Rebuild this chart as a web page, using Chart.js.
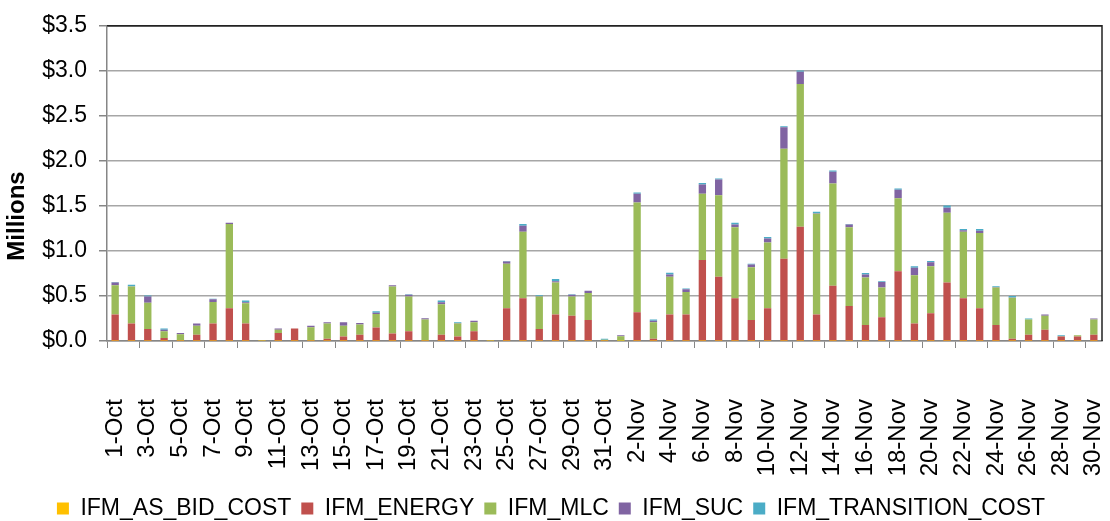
<!DOCTYPE html>
<html>
<head>
<meta charset="utf-8">
<script src="https://cdn.jsdelivr.net/npm/chart.js@4.4.1/dist/chart.umd.min.js"></script>
<style>
  html, body { margin: 0; padding: 0; background: #fff; }
  canvas { display: block; }
</style>
</head>
<body>
<canvas id="costChart" width="1110" height="521"></canvas>
<script>
// ---- Data (millions of $), one entry per day, 1-Oct .. 30-Nov ----
const days = [
  "1-Oct","2-Oct","3-Oct","4-Oct","5-Oct","6-Oct","7-Oct","8-Oct","9-Oct","10-Oct",
  "11-Oct","12-Oct","13-Oct","14-Oct","15-Oct","16-Oct","17-Oct","18-Oct","19-Oct","20-Oct",
  "21-Oct","22-Oct","23-Oct","24-Oct","25-Oct","26-Oct","27-Oct","28-Oct","29-Oct","30-Oct","31-Oct",
  "1-Nov","2-Nov","3-Nov","4-Nov","5-Nov","6-Nov","7-Nov","8-Nov","9-Nov","10-Nov",
  "11-Nov","12-Nov","13-Nov","14-Nov","15-Nov","16-Nov","17-Nov","18-Nov","19-Nov","20-Nov",
  "21-Nov","22-Nov","23-Nov","24-Nov","25-Nov","26-Nov","27-Nov","28-Nov","29-Nov","30-Nov"
];

const asBidCost = [
  0.004,0.004,0.004,0.004,0.004,0.004,0.004,0.004,0.004,0.004,
  0.004,0.004,0.004,0.004,0.004,0.004,0.004,0.004,0.004,0.004,
  0.004,0.004,0.004,0.004,0.004,0.004,0.004,0.004,0.004,0.004,0.004,
  0.004,0.004,0.004,0.004,0.004,0.004,0.004,0.004,0.004,0.004,
  0.004,0.004,0.004,0.004,0.004,0.004,0.004,0.004,0.004,0.004,
  0.004,0.004,0.004,0.004,0.004,0.004,0.004,0.004,0.004,0.004
];

const energy = [
  0.29,0.19,0.13,0.03,0.005,0.065,0.19,0.36,0.19,0,
  0.085,0.135,0.005,0.02,0.045,0.065,0.145,0.08,0.105,0.005,
  0.065,0.045,0.105,0,0.36,0.47,0.13,0.29,0.275,0.23,0.005,
  0,0.315,0.02,0.29,0.29,0.895,0.71,0.47,0.23,0.36,
  0.91,1.265,0.29,0.61,0.385,0.175,0.26,0.77,0.19,0.305,
  0.645,0.47,0.36,0.175,0.02,0.065,0.12,0.045,0.045,0.065
];

const mlc = [
  0.325,0.41,0.29,0.075,0.065,0.10,0.24,0.935,0.225,0,
  0.035,0,0.145,0.17,0.12,0.115,0.15,0.52,0.385,0.23,
  0.34,0.145,0.10,0,0.495,0.74,0.36,0.355,0.215,0.30,0.005,
  0.05,1.22,0.185,0.42,0.25,0.735,0.905,0.79,0.585,0.73,
  1.22,1.585,1.12,1.135,0.875,0.525,0.33,0.81,0.535,0.52,
  0.775,0.74,0.835,0.415,0.455,0.17,0.155,0.005,0.015,0.17
];

const suc = [
  0.03,0.005,0.07,0.015,0.015,0.025,0.03,0.015,0.01,0,
  0.015,0,0.015,0.015,0.04,0.015,0.015,0.015,0.02,0.015,
  0.02,0.005,0.015,0,0.025,0.065,0.005,0.015,0.02,0.025,0,
  0.01,0.095,0.015,0.025,0.03,0.105,0.175,0.03,0.03,0.045,
  0.24,0.135,0.005,0.13,0.03,0.035,0.06,0.095,0.085,0.045,
  0.055,0.015,0.025,0.005,0.005,0,0.015,0,0,0.01
];

const transitionCost = [
  0.005,0.015,0.01,0.015,0,0,0.005,0,0.02,0,
  0,0,0,0,0,0,0.015,0,0.005,0,
  0.02,0.01,0,0,0.005,0.02,0.01,0.025,0.005,0,0.01,
  0,0.015,0.015,0.02,0.01,0.015,0.01,0.02,0.01,0.015,
  0.01,0.015,0.015,0.015,0.005,0.015,0.01,0.015,0.015,0.015,
  0.025,0.015,0.02,0.01,0.015,0.01,0,0.01,0,0
];

const seriesNames = ["IFM_AS_BID_COST", "IFM_ENERGY", "IFM_MLC", "IFM_SUC", "IFM_TRANSITION_COST"];
const seriesColors = ["#FFC000", "#C0504D", "#9BBB59", "#8064A2", "#4BACC6"];
const seriesValues = [asBidCost, energy, mlc, suc, transitionCost];

const FONT = "'Liberation Sans', Arial, sans-serif";

// "Millions" title + black top/right frame like the original
const framePlugin = {
  id: "frame",
  afterDraw(chart) {
    const { ctx, chartArea } = chart;
    ctx.save();
    ctx.strokeStyle = "#222";
    ctx.lineWidth = 1.5;
    ctx.beginPath();
    ctx.moveTo(chartArea.left, chartArea.top);
    ctx.lineTo(chartArea.right, chartArea.top);
    ctx.lineTo(chartArea.right, chartArea.bottom);
    ctx.stroke();

    ctx.translate(17, 216);
    ctx.rotate(-Math.PI / 2);
    ctx.fillStyle = "#000";
    ctx.font = "bold 24px " + FONT;
    ctx.textAlign = "center";
    ctx.textBaseline = "middle";
    ctx.fillText("Millions", 0, 0);
    ctx.restore();
  }
};

const datasets = seriesNames.map((name, i) => ({
  label: name,
  data: seriesValues[i],
  backgroundColor: seriesColors[i],
  borderWidth: 0,
  categoryPercentage: 1.0,
  barPercentage: 0.45
}));

new Chart(document.getElementById("costChart"), {
  type: "bar",
  data: { labels: days, datasets },
  plugins: [framePlugin],
  options: {
    responsive: false,
    animation: false,
    layout: { padding: { top: 20, right: 8, left: 0, bottom: -9 } },
    plugins: {
      tooltip: { enabled: false },
      legend: {
        position: "bottom",
        labels: {
          color: "#000",
          font: { family: FONT, size: 23 },
          boxWidth: 12,
          boxHeight: 12,
          padding: 10
        }
      }
    },
    scales: {
      x: {
        stacked: true,
        afterFit(scale) {
          scale.height = 146;
          scale.paddingLeft = 0;
          scale.paddingRight = 0;
        },
        border: { color: "#868686", width: 1.5 },
        grid: {
          offset: true,
          drawOnChartArea: false,
          drawTicks: true,
          tickLength: 7,
          color: (c) => (c.index % 2 === 0 ? "#868686" : "rgba(0,0,0,0)")
        },
        ticks: {
          autoSkip: false,
          maxRotation: 90,
          minRotation: 90,
          padding: 51,
          color: "#000",
          font: { family: FONT, size: 24 },
          callback(value, index) {
            return index % 2 === 0 ? days[index] : "";
          }
        }
      },
      y: {
        stacked: true,
        min: 0,
        max: 3.5,
        afterFit(scale) { scale.width = 107; },
        border: { color: "#868686", width: 1.5 },
        grid: {
          color: (c) => (c.tick && c.tick.value >= 3.5 ? "#222" : "#a6a6a6"),
          lineWidth: 1.5,
          tickLength: 8,
          tickColor: "#868686"
        },
        ticks: {
          stepSize: 0.5,
          padding: 12,
          color: "#000",
          font: { family: FONT, size: 23 },
          callback: (v) => "$" + Number(v).toFixed(1)
        }
      }
    }
  }
});
</script>
</body>
</html>
